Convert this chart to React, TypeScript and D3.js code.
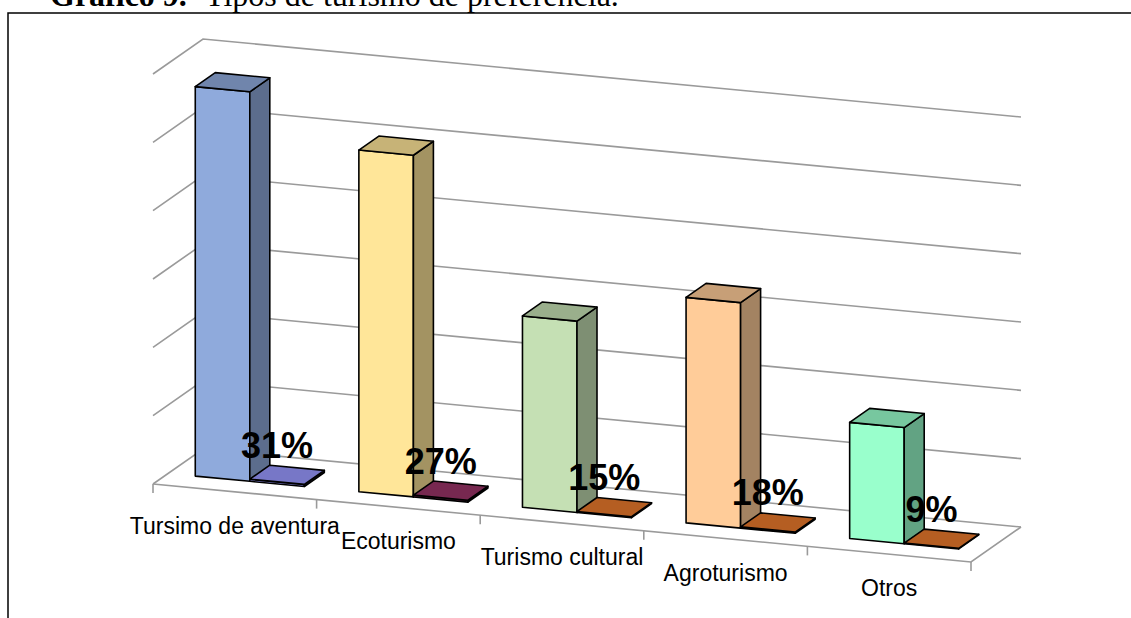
import React from 'react'
import * as d3 from 'd3'

const categories = ['Tursimo de aventura', 'Ecoturismo', 'Turismo cultural', 'Agroturismo', 'Otros']
const counts = [57, 50, 28, 33, 17]
const shares = [0.31, 0.27, 0.15, 0.18, 0.09]
const yTicks = [0, 10, 20, 30, 40, 50, 60]
const countColors = ['#8faadc', '#ffe699', '#c5e0b4', '#ffcc99', '#99ffcc']
const shareColors = ['#9999ff', '#993366', '#e8782c', '#e8782c', '#e8782c']

const width = 1131
const height = 618
// oblique projection of the plot box
const origin = { x: 153, y: 484 }
const run = { x: 818, y: 78 } // along the category axis
const depth = { x: 50, y: -35 } // towards the back wall

const yScale = d3.scaleLinear().domain([0, 60]).range([0, 410])
const xBand = d3.scaleBand<string>().domain(categories).range([0, 1])
const sub = d3
  .scaleBand<string>()
  .domain(['count', 'share'])
  .range([0, xBand.bandwidth()])
  .paddingOuter(0.5)

const proj = (u: number, d: number, v: number): [number, number] => [
  origin.x + run.x * u + depth.x * d,
  origin.y + run.y * u + depth.y * d - yScale(v),
]

const poly = (pts: [number, number][]) => 'M' + pts.map((p) => p.join(',')).join('L') + 'Z'
const line = (pts: [number, number][]) => 'M' + pts.map((p) => p.join(',')).join('L')

const shade = (c: string, k: number) => {
  const r = d3.rgb(c)
  return d3.rgb(r.r * k, r.g * k, r.b * k).formatHex()
}

const d0 = 0.3
const d1 = 0.7

function Bar({ u0, u1, v, color }: { u0: number; u1: number; v: number; color: string }) {
  const front = poly([proj(u0, d0, 0), proj(u1, d0, 0), proj(u1, d0, v), proj(u0, d0, v)])
  const side = poly([proj(u1, d0, 0), proj(u1, d1, 0), proj(u1, d1, v), proj(u1, d0, v)])
  const top = poly([proj(u0, d0, v), proj(u1, d0, v), proj(u1, d1, v), proj(u0, d1, v)])
  return (
    <g stroke="#000" strokeWidth={1.6} strokeLinejoin="round">
      <path d={front} fill={color} />
      <path d={side} fill={shade(color, 0.64)} />
      <path d={top} fill={shade(color, 0.78)} />
    </g>
  )
}

export default function App() {
  const pct = d3.format('.0%')
  const boundaries = [...categories.map((c) => xBand(c)!), 1]
  return (
    <svg width={width} height={height} style={{ position: 'absolute', left: 0, top: 0 }}>
      <rect width={width} height={height} fill="#fff" />
      {/* title, cut by the page top */}
      <text y={6} fontFamily="'Liberation Serif', 'Times New Roman', serif" fontSize={32}>
        <tspan x={50} fontWeight="bold">Gráfico 9.</tspan>
        <tspan x={205}>Tipos de turismo de preferencia.</tspan>
      </text>
      <rect x={8} y={13} width={1300} height={800} fill="none" stroke="#000" strokeWidth={1.5} />

      {/* walls */}
      <g fill="none" stroke="#9a9a9a" strokeWidth={1.6}>
        {yTicks.map((t) => (
          <path key={t} d={line([proj(0, 0, t), proj(0, 1, t), proj(1, 1, t)])} />
        ))}
        <path d={line([proj(0, 0, 0), proj(1, 0, 0), proj(1, 1, 0)])} />
        {boundaries.map((u, i) => {
          const [x, y] = proj(u, 0, 0)
          return <line key={i} x1={x} x2={x} y1={y} y2={y + 9} />
        })}
      </g>

      {/* bars */}
      {categories.map((c, i) => {
        const base = xBand(c)!
        const a0 = base + sub('count')!
        const b0 = base + sub('share')!
        return (
          <g key={c}>
            <Bar u0={a0} u1={a0 + sub.bandwidth()} v={counts[i]} color={countColors[i]} />
            <Bar u0={b0} u1={b0 + sub.bandwidth()} v={shares[i]} color={shareColors[i]} />
          </g>
        )
      })}

      {/* data labels */}
      <g fontFamily="'Liberation Sans', Arial, sans-serif" fontWeight="bold" fontSize={36} textAnchor="middle">
        {categories.map((c, i) => {
          const u = xBand(c)! + sub('share')! + sub.bandwidth() / 2
          const [x, y] = proj(u, d0, shares[i])
          return (
            <text key={c} x={x} y={y - 24}>
              {pct(shares[i])}
            </text>
          )
        })}
      </g>

      {/* category labels */}
      <g fontFamily="'Liberation Sans', Arial, sans-serif" fontSize={23} textAnchor="middle">
        {categories.map((c) => {
          const [x, y] = proj(xBand(c)! + xBand.bandwidth() / 2, 0, 0)
          return (
            <text key={c} x={x} y={y + 42}>
              {c}
            </text>
          )
        })}
      </g>
    </svg>
  )
}
